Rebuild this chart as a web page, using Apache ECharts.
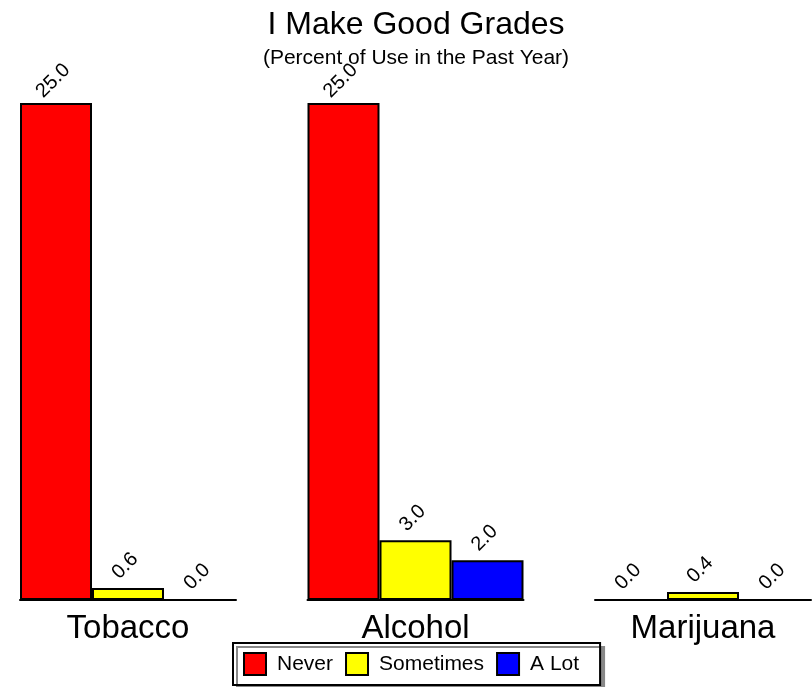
<!DOCTYPE html>
<html><head><meta charset="utf-8">
<script src="https://cdn.jsdelivr.net/npm/echarts@6/dist/echarts.min.js"></script>
<style>html,body{margin:0;padding:0;background:#fff}#c{width:812px;height:687px}</style>
</head><body><div id="c"></div>
<script>
const categories = ['Tobacco', 'Alcohol', 'Marijuana'];
const seriesNames = ['Never', 'Sometimes', 'A Lot'];
const neverValues = [25.0, 25.0, 0.0];
const sometimesValues = [0.6, 3.0, 0.4];
const aLotValues = [0.0, 2.0, 0.0];
const seriesColors = ['#ff0000', '#ffff00', '#0000ff'];
const valueMax = 25;

const font = '"Liberation Sans", Arial, sans-serif';
const allValues = [neverValues, sometimesValues, aLotValues];
const grids = [], xAxes = [], yAxes = [], series = [];
categories.forEach((cat, i) => {
  grids.push({left: 20 + 287.5 * i, width: 216, top: 103, bottom: 87});
  xAxes.push({type: 'category', gridIndex: i, data: [cat],
    axisLine: {show: true, lineStyle: {color: '#000', width: 2}},
    axisTick: {show: false},
    axisLabel: {color: '#000', fontSize: 33, fontFamily: font, margin: 12},
    splitLine: {show: false}});
  yAxes.push({type: 'value', gridIndex: i, min: 0, max: valueMax, show: false});
  seriesNames.forEach((name, j) => {
    series.push({type: 'bar', name: name, xAxisIndex: i, yAxisIndex: i,
      data: [allValues[j][i]], barGap: '0%', barCategoryGap: '0%',
      itemStyle: {color: seriesColors[j], borderColor: '#000', borderWidth: 2},
      label: {show: true, position: 'top', rotate: 45, distance: 25,
        align: 'center', verticalAlign: 'middle', offset: [-4, 0], color: '#000',
        fontSize: 20, fontFamily: font, formatter: p => p.value.toFixed(1)},
      emphasis: {disabled: true}, animation: false});
  });
});

const chart = echarts.init(document.getElementById('c'), null, {renderer: 'canvas'});
chart.setOption({
  backgroundColor: '#fff',
  animation: false,
  title: {text: 'I Make Good Grades', subtext: '(Percent of Use in the Past Year)',
    left: 416, top: 9, textAlign: 'center', padding: 0, itemGap: 7,
    textStyle: {fontSize: 32, fontWeight: 'normal', color: '#000', fontFamily: font},
    subtextStyle: {fontSize: 21, color: '#000', fontFamily: font}},
  legend: {data: seriesNames, left: 233, top: 643, orient: 'horizontal',
    itemWidth: 22, itemHeight: 22, itemGap: 12, padding: [9, 21, 9, 10],
    borderColor: '#000', borderWidth: 2, backgroundColor: '#fff',
    shadowColor: '#888', shadowOffsetX: 4, shadowOffsetY: 4, shadowBlur: 0,
    icon: 'rect',
    itemStyle: {borderColor: '#000', borderWidth: 2},
    textStyle: {fontSize: 21, color: '#000', fontFamily: font, padding: [0, 0, 0, 6]}},
  grid: grids,
  xAxis: xAxes,
  yAxis: yAxes,
  series: series
});
</script></body></html>
